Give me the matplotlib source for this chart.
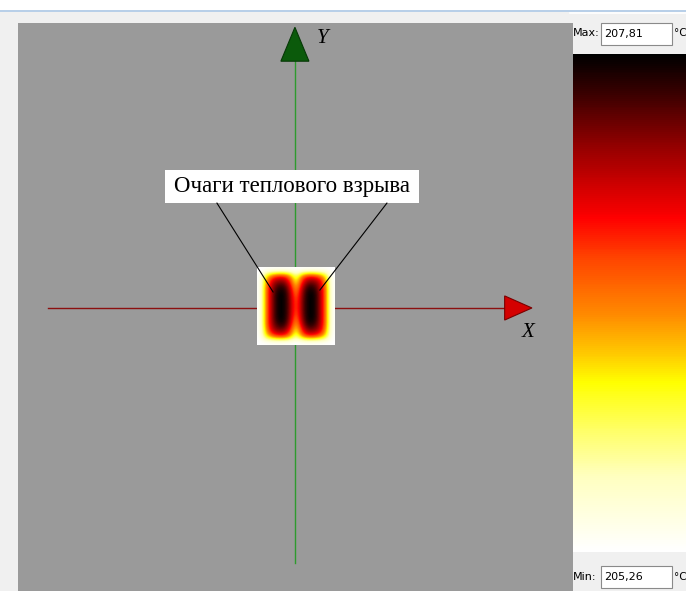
import numpy as np
import matplotlib.pyplot as plt
from matplotlib.colors import LinearSegmentedColormap
from matplotlib.patches import Rectangle, Polygon
from matplotlib.cm import ScalarMappable
from matplotlib.colors import Normalize

# temperature range of the scale, °C
t_min = 205.26
t_max = 207.81

# temperature field over the sample square (rows top -> bottom), °C
temp_field = [
    [205.26, 205.26, 205.26, 205.26, 205.26, 205.26, 205.26, 205.26, 205.26, 205.26, 205.26, 205.26, 205.26],
    [205.26, 206.15, 206.66, 206.92, 206.92, 206.54, 205.77, 206.54, 206.92, 206.92, 206.66, 206.15, 205.26],
    [205.26, 206.41, 207.17, 207.43, 207.43, 206.92, 206.03, 206.92, 207.43, 207.43, 207.17, 206.41, 205.26],
    [205.26, 206.54, 207.30, 207.68, 207.73, 207.22, 206.28, 207.22, 207.73, 207.68, 207.30, 206.54, 205.26],
    [205.26, 206.54, 207.35, 207.81, 207.81, 207.35, 206.48, 207.35, 207.81, 207.81, 207.35, 206.54, 205.26],
    [205.26, 206.54, 207.35, 207.81, 207.81, 207.40, 206.59, 207.40, 207.81, 207.81, 207.35, 206.54, 205.26],
    [205.26, 206.54, 207.35, 207.81, 207.81, 207.40, 206.62, 207.40, 207.81, 207.81, 207.35, 206.54, 205.26],
    [205.26, 206.54, 207.35, 207.81, 207.81, 207.40, 206.59, 207.40, 207.81, 207.81, 207.35, 206.54, 205.26],
    [205.26, 206.54, 207.35, 207.81, 207.81, 207.35, 206.48, 207.35, 207.81, 207.81, 207.35, 206.54, 205.26],
    [205.26, 206.54, 207.30, 207.68, 207.73, 207.22, 206.28, 207.22, 207.73, 207.68, 207.30, 206.54, 205.26],
    [205.26, 206.41, 207.17, 207.43, 207.43, 206.92, 206.03, 206.92, 207.43, 207.43, 207.17, 206.41, 205.26],
    [205.26, 206.15, 206.66, 206.92, 206.92, 206.54, 205.77, 206.54, 206.92, 206.92, 206.66, 206.15, 205.26],
    [205.26, 205.26, 205.26, 205.26, 205.26, 205.26, 205.26, 205.26, 205.26, 205.26, 205.26, 205.26, 205.26],
]

label_text = "Очаги теплового взрыва"
max_label = "207,81"
min_label = "205,26"

# white -> yellow -> red -> black palette of the thermal scale
heat_cmap = LinearSegmentedColormap.from_list("thermal", [
    (0.00, "#ffffff"), (0.15, "#ffffc0"), (0.25, "#ffff60"), (0.34, "#ffff00"),
    (0.39, "#ffd000"), (0.48, "#ff8800"), (0.59, "#ff4400"), (0.67, "#ff0000"),
    (0.74, "#cc0000"), (0.83, "#880000"), (0.93, "#330000"), (1.00, "#000000"),
])
norm = Normalize(t_min, t_max)

W, H = 686, 591
fig = plt.figure(figsize=(W / 100, H / 100), dpi=100)
fig.patch.set_facecolor("#f0f0f0")

def fig_rect(x0, y0, x1, y1):
    # pixel box (top-left origin) -> figure fraction rect
    return [x0 / W, 1 - y1 / H, (x1 - x0) / W, (y1 - y0) / H]

# window chrome: white top strip and thin blue line
fig.patches.append(Rectangle((0, 1 - 10 / H), 1, 10 / H, transform=fig.transFigure,
                             facecolor="white", edgecolor="none", zorder=0))
fig.patches.append(Rectangle((0, 1 - 11.5 / H), 1, 1.5 / H, transform=fig.transFigure,
                             facecolor="#b8cfe8", edgecolor="none", zorder=0))
fig.lines.append(plt.Line2D([570 / W, 1], [1 - 13 / H] * 2, transform=fig.transFigure,
                            color="white", lw=1.2))

# main view
ax = fig.add_axes(fig_rect(18, 23, 573, 591))
ax.set_facecolor("#9a9a9a")
ax.set_xlim(-7.10, 7.13)
ax.set_ylim(-7.26, 7.31)
for s in ax.spines.values():
    s.set_visible(False)
ax.set_xticks([])
ax.set_yticks([])

ax.imshow(np.array(temp_field), cmap=heat_cmap, norm=norm, interpolation="bicubic",
          extent=(-0.98, 1.02, -0.96, 1.02), zorder=3)

# coordinate axes
ax.plot([-6.33, 5.4], [0, 0], color="#8b1010", lw=1.0, zorder=2)
ax.add_patch(Polygon([[5.38, 0.31], [5.38, -0.31], [6.08, 0]], closed=True,
                     facecolor="#d40000", edgecolor="#7a0000", lw=0.8, zorder=4))
ax.plot([0, 0], [-6.54, 6.35], color="#2e9a2e", lw=1.0, zorder=2)
ax.add_patch(Polygon([[-0.36, 6.33], [0.36, 6.33], [0, 7.2]], closed=True,
                     facecolor="#0b5a0b", edgecolor="#063806", lw=0.8, zorder=4))
ax.text(5.97, -0.64, "X", fontsize=15, fontstyle="italic", family="Liberation Serif",
        ha="center", va="center", zorder=5)
ax.text(0.72, 6.92, "Y", fontsize=15, fontstyle="italic", family="Liberation Serif",
        ha="center", va="center", zorder=5)

# callout
ax.add_patch(Rectangle((-3.33, 2.69), 6.51, 0.85, facecolor="white", edgecolor="none", zorder=5))
ax.text(-0.08, 3.12, label_text, fontsize=16.5, family="Liberation Serif",
        ha="center", va="center", zorder=6)
ax.plot([-2.0, -0.56], [2.69, 0.41], color="black", lw=0.8, zorder=6)
ax.plot([2.36, 0.64], [2.69, 0.46], color="black", lw=0.8, zorder=6)

# colour scale
cax = fig.add_axes(fig_rect(573, 54, 686, 552))
cb = fig.colorbar(ScalarMappable(norm=norm, cmap=heat_cmap), cax=cax)
cb.outline.set_visible(False)
cb.set_ticks([])

# Max / Min entry fields
for y_c, name, val in [(33.5, "Max:", max_label), (577, "Min:", min_label)]:
    fig.text(573 / W, 1 - y_c / H, name, fontsize=8, family="DejaVu Sans",
             ha="left", va="center", color="black")
    fig.patches.append(Rectangle((601 / W, 1 - (y_c + 11) / H), 71 / W, 22 / H,
                                 transform=fig.transFigure, facecolor="white",
                                 edgecolor="#8a8a8a", lw=0.8))
    fig.text(604 / W, 1 - y_c / H, val, fontsize=8, family="DejaVu Sans",
             ha="left", va="center", color="black")
    fig.text(674 / W, 1 - y_c / H, "°C", fontsize=7.5, family="DejaVu Sans",
             ha="left", va="center", color="black")

fig.savefig("out.png", dpi=100, facecolor=fig.get_facecolor())
